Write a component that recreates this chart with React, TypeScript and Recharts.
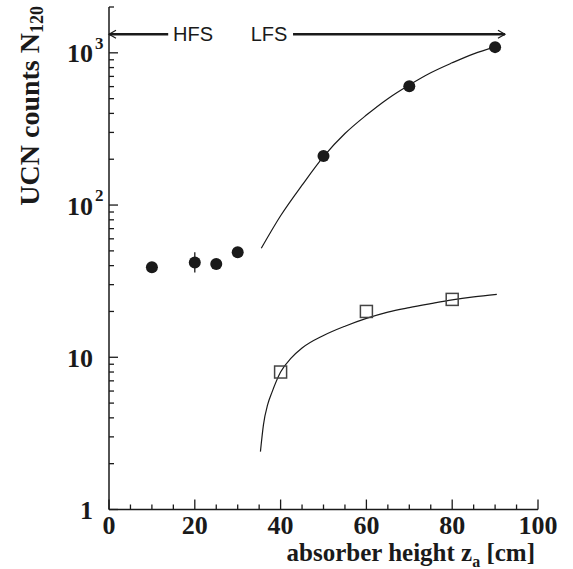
import React from 'react';
import { ComposedChart, XAxis, YAxis, Scatter, Line, ErrorBar, ReferenceLine, ReferenceDot } from 'recharts';

// tick positions (labels only on the majors)
const xTicks = [0, 5, 10, 15, 20, 25, 30, 35, 40, 45, 50, 55, 60, 65, 70, 75, 80, 85, 90, 95, 100];
const xMajor = [0, 20, 40, 60, 80, 100];
const yTicks = [1, 2, 3, 4, 5, 6, 7, 8, 9, 10, 20, 30, 40, 50, 60, 70, 80, 90, 100, 200, 300, 400, 500, 600, 700, 800, 900, 1000, 2000];
const yMajor = [1, 10, 100, 1000];
const yMajorBase = ['1', '10', '10', '10'];
const yMajorExp = ['', '', '2', '3'];

// filled circles
const filledX = [10, 20, 25, 30, 50, 70, 90];
const filledN = [39, 42, 41, 49, 210, 604, 1090];
const filledErr: (number | number[])[] = [0, [6, 7], 0, 0, 0, 0, 0];

// open squares
const openX = [40, 60, 80];
const openN = [8.0, 20, 24];

// fitted curves
const upperX = [35.5, 40, 45, 50, 55, 60, 65, 70, 75, 80, 85, 90];
const upperN = [52, 85, 135, 208, 295, 390, 500, 615, 740, 860, 985, 1095];
const lowerX = [35.3, 36, 37, 38, 40, 42.5, 45, 50, 55, 60, 65, 70, 75, 80, 85, 90.4];
const lowerN = [2.4, 3.6, 4.9, 5.9, 8.0, 9.9, 11.5, 13.9, 16.0, 18.0, 19.8, 21.2, 22.5, 23.8, 24.9, 25.9];

// HFS / LFS annotation
const arrowLevel = 1325;
const hfsArrow = [0, 13.8];
const lfsArrow = [42.9, 92.3];
const regionText = ['HFS', 'LFS'];
const regionTextX = [19.6, 37.3];

const filledPts = filledX.map((x, i) => ({ x, y: filledN[i], err: filledErr[i] }));
const openPts = openX.map((x, i) => ({ x, y: openN[i] }));
const upperPts = upperX.map((x, i) => ({ x, y: upperN[i] }));
const lowerPts = lowerX.map((x, i) => ({ x, y: lowerN[i] }));

const INK = '#1a1a1a';
const SERIF = '"Liberation Serif", "Times New Roman", serif';
const SANS = '"Liberation Sans", Arial, sans-serif';

// inward ticks: major/minor length chosen per tick value
const XTick = (props: any) => {
  const { x, y, payload } = props;
  const major = xMajor.includes(payload.value);
  return (
    <g>
      <line x1={x} x2={x} y1={y} y2={y - (major ? 10 : 5)} stroke={INK} strokeWidth={1.3} />
      {major && (
        <text x={x} y={y + 24} textAnchor="middle" fontFamily={SERIF} fontWeight="bold" fontSize={26} fill={INK}>
          {payload.value}
        </text>
      )}
    </g>
  );
};

const YTick = (props: any) => {
  const { x, y, payload } = props;
  const idx = yMajor.indexOf(payload.value);
  const len = idx >= 0 ? 9 : 5;
  return (
    <g>
      <line x1={x} x2={x + len} y1={y} y2={y} stroke={INK} strokeWidth={1.3} />
      {idx >= 0 && (
        <text x={x - 16} y={y + 9.5} textAnchor="end" fontFamily={SERIF} fontWeight="bold" fontSize={26} fill={INK}>
          {yMajorBase[idx]}
        </text>
      )}
      {idx >= 0 && yMajorExp[idx] && (
        <text x={x - 14} y={y - 4} fontFamily={SERIF} fontWeight="bold" fontSize={17} fill={INK}>
          {yMajorExp[idx]}
        </text>
      )}
    </g>
  );
};

const arrowShape = (head: 'left' | 'right') => (p: any) => {
  const { x1, y1, x2, y2 } = p;
  const tx = head === 'left' ? Math.min(x1, x2) : Math.max(x1, x2);
  const d = head === 'left' ? 7 : -7;
  return (
    <g>
      <line x1={x1} y1={y1} x2={x2} y2={y2} stroke={INK} strokeWidth={2.6} />
      <polyline points={`${tx + d},${y1 - 4} ${tx},${y1} ${tx + d},${y1 + 4}`} fill="none" stroke={INK} strokeWidth={1.2} />
    </g>
  );
};

const textShape = (label: string) => (p: any) => (
  <text x={p.cx} y={p.cy + 7} textAnchor="middle" fontFamily={SANS} fontSize={20} fill={INK}>
    {label}
  </text>
);

const YTitle = () => {
  const cx = 39;
  const top = 6;
  return (
    <text
      x={cx}
      y={top}
      transform={`rotate(-90 ${cx} ${top})`}
      textAnchor="end"
      fontFamily={SERIF}
      fontWeight="bold"
      fontSize={28}
      fill={INK}
    >
      UCN counts N<tspan fontSize={18} dy={4}>120</tspan>
    </text>
  );
};

const XTitle = (p: any) => {
  const vb = p.viewBox;
  return (
    <text x={vb.x + vb.width - 3} y={561} textAnchor="end" fontFamily={SERIF} fontWeight="bold" fontSize={25} fill={INK}>
      absorber height z<tspan fontSize={16} dy={6}>a</tspan>
      <tspan dy={-6}> [cm]</tspan>
    </text>
  );
};

const Dot = (p: any) => <circle cx={p.cx} cy={p.cy} r={6} fill={INK} />;
const Square = (p: any) => (
  <rect x={p.cx - 6} y={p.cy - 6} width={12} height={12} fill="none" stroke="#444" strokeWidth={1.5} />
);

const frame = { stroke: INK, strokeWidth: 1.5 };

export default function App() {
  return (
    <div style={{ position: 'absolute', left: 0, top: 0, background: '#fff' }}>
      <ComposedChart width={573} height={569} margin={{ top: 7, right: 35, bottom: 0, left: 0 }}>
        <XAxis
          dataKey="x"
          type="number"
          domain={[0, 100]}
          ticks={xTicks}
          interval={0}
          height={59.5}
          tickSize={0}
          tickMargin={0}
          tickLine={false}
          axisLine={frame}
          tick={<XTick />}
          label={<XTitle />}
        />
        <XAxis xAxisId="top" orientation="top" type="number" domain={[0, 100]} height={0} tick={false} tickLine={false} axisLine={frame} />
        <YAxis
          dataKey="y"
          type="number"
          scale="log"
          domain={[1, 2000]}
          allowDataOverflow
          ticks={yTicks}
          interval={0}
          width={109}
          tickSize={0}
          tickMargin={0}
          tickLine={false}
          axisLine={frame}
          tick={<YTick />}
          label={<YTitle />}
        />
        <YAxis yAxisId="right" orientation="right" type="number" domain={[0, 1]} width={0} tick={false} tickLine={false} axisLine={frame} />
        <ReferenceLine
          segment={[{ x: hfsArrow[0], y: arrowLevel }, { x: hfsArrow[1], y: arrowLevel }]}
          shape={arrowShape('left')}
          ifOverflow="visible"
        />
        <ReferenceLine
          segment={[{ x: lfsArrow[0], y: arrowLevel }, { x: lfsArrow[1], y: arrowLevel }]}
          shape={arrowShape('right')}
          ifOverflow="visible"
        />
        {regionText.map((t, i) => (
          <ReferenceDot key={t} x={regionTextX[i]} y={arrowLevel} r={0} shape={textShape(t)} ifOverflow="visible" />
        ))}
        <Line data={upperPts} dataKey="y" type="monotone" stroke={INK} strokeWidth={1.2} dot={false} isAnimationActive={false} />
        <Line data={lowerPts} dataKey="y" type="monotone" stroke={INK} strokeWidth={1.2} dot={false} isAnimationActive={false} />
        <Scatter data={filledPts} shape={<Dot />} isAnimationActive={false}>
          <ErrorBar dataKey="err" direction="y" width={0} stroke={INK} strokeWidth={1.3} isAnimationActive={false} />
        </Scatter>
        <Scatter data={openPts} shape={<Square />} isAnimationActive={false} />
      </ComposedChart>
    </div>
  );
}
